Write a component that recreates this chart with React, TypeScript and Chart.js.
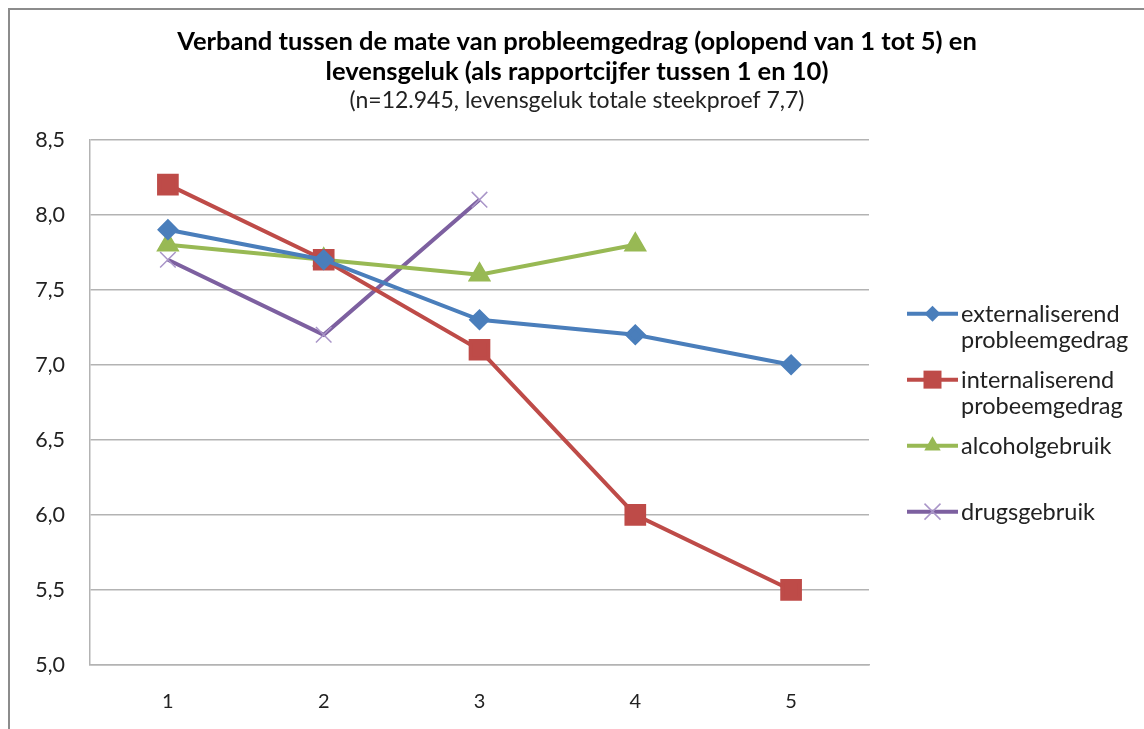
import React, { useEffect, useRef } from "react";
import { Chart, registerables } from "chart.js";

Chart.register(...registerables);

const categories = ["1", "2", "3", "4", "5"];
const externaliserend = [7.9, 7.7, 7.3, 7.2, 7.0];
const internaliserend = [8.2, 7.7, 7.1, 6.0, 5.5];
const alcoholgebruik = [7.8, 7.7, 7.6, 7.8, null];
const drugsgebruik = [7.7, 7.2, 8.1, null, null];

const titleLines = [
  "Verband tussen de mate van probleemgedrag (oplopend van 1 tot 5) en",
  "levensgeluk (als rapportcijfer tussen 1 en 10)",
];
const subtitleText = "(n=12.945, levensgeluk totale steekproef 7,7)";

const legendLabels = [
  ["externaliserend", "probleemgedrag"],
  ["internaliserend", "probeemgedrag"],
  ["alcoholgebruik"],
  ["drugsgebruik"],
];

const FONT = "Lato, 'Open Sans', sans-serif";

function drawMarker(ctx: CanvasRenderingContext2D, style: string, x: number, y: number, color: string, stroke: string) {
  ctx.save();
  ctx.fillStyle = color;
  ctx.strokeStyle = stroke;
  ctx.beginPath();
  if (style === "rectRot") {
    const r = 8;
    ctx.moveTo(x, y - r);
    ctx.lineTo(x + r, y);
    ctx.lineTo(x, y + r);
    ctx.lineTo(x - r, y);
    ctx.closePath();
    ctx.fill();
  } else if (style === "rect") {
    const s = 9;
    ctx.rect(x - s, y - s, 2 * s, 2 * s);
    ctx.fill();
  } else if (style === "triangle") {
    const r = 9.5;
    ctx.moveTo(x, y - r);
    ctx.lineTo(x + r * 0.866, y + r * 0.5);
    ctx.lineTo(x - r * 0.866, y + r * 0.5);
    ctx.closePath();
    ctx.fill();
  } else {
    const s = 8;
    ctx.lineWidth = 1.5;
    ctx.moveTo(x - s, y - s);
    ctx.lineTo(x + s, y + s);
    ctx.moveTo(x + s, y - s);
    ctx.lineTo(x - s, y + s);
    ctx.stroke();
  }
  ctx.restore();
}

const legendPlugin = {
  id: "customLegend",
  afterDraw(chart: any) {
    const ctx: CanvasRenderingContext2D = chart.ctx;
    const area = chart.chartArea;
    const x0 = area.right + 38;
    const x1 = area.right + 89;
    const tx = area.right + 92;
    let y = area.top + 174;
    ctx.save();
    ctx.font = `23.5px ${FONT}`;
    ctx.textBaseline = "middle";
    ctx.textAlign = "left";
    chart.data.datasets.forEach((ds: any, i: number) => {
      ctx.strokeStyle = ds.borderColor;
      ctx.lineWidth = 4;
      ctx.beginPath();
      ctx.moveTo(x0, y);
      ctx.lineTo(x1, y);
      ctx.stroke();
      drawMarker(ctx, ds.pointStyle, (x0 + x1) / 2, y, ds.pointBackgroundColor, ds.pointBorderColor);
      ctx.fillStyle = "#222";
      legendLabels[i].forEach((line, j) => {
        ctx.fillText(line, tx, y + 1 + j * 26);
      });
      y += 66;
    });
    ctx.restore();
  },
};

export default function App() {
  const ref = useRef<HTMLCanvasElement | null>(null);

  useEffect(() => {
    if (!ref.current) return;
    const chart = new Chart(ref.current, {
      type: "line",
      data: {
        labels: categories,
        datasets: [
          {
            label: "externaliserend probleemgedrag",
            data: externaliserend,
            borderColor: "#4A7EBB",
            pointBackgroundColor: "#4A7EBB",
            pointBorderColor: "#4A7EBB",
            pointStyle: "rectRot",
            pointRadius: 8,
            borderWidth: 4,
          },
          {
            label: "internaliserend probeemgedrag",
            data: internaliserend,
            borderColor: "#BE4B48",
            pointBackgroundColor: "#BE4B48",
            pointBorderColor: "#BE4B48",
            pointStyle: "rect",
            pointRadius: 12.5,
            borderWidth: 4,
          },
          {
            label: "alcoholgebruik",
            data: alcoholgebruik,
            borderColor: "#98B954",
            pointBackgroundColor: "#98B954",
            pointBorderColor: "#98B954",
            pointStyle: "triangle",
            pointRadius: 9.5,
            borderWidth: 4,
          },
          {
            label: "drugsgebruik",
            data: drugsgebruik,
            borderColor: "#7D60A0",
            pointBackgroundColor: "#A995C8",
            pointBorderColor: "#A995C8",
            pointStyle: "crossRot",
            pointRadius: 11,
            pointBorderWidth: 1.5,
            borderWidth: 4,
          },
        ] as any,
      },
      options: {
        animation: false,
        responsive: false,
        maintainAspectRatio: false,
        spanGaps: false,
        layout: { padding: 0 },
        plugins: {
          legend: { display: false },
          tooltip: { enabled: false },
          title: {
            display: true,
            text: titleLines,
            color: "#000",
            font: { family: FONT, size: 25.5, weight: "bold", lineHeight: 1.18 },
            padding: { top: 17, bottom: 0 },
          },
          subtitle: {
            display: true,
            text: subtitleText,
            color: "#222",
            font: { family: FONT, size: 23, weight: "normal", lineHeight: 1.15 },
            padding: { top: 0, bottom: 26 },
          },
        },
        scales: {
          x: {
            offset: true,
            grid: { display: false, drawTicks: false, offset: true },
            border: { display: true, color: "#B3B3B3", width: 1.5 },
            ticks: { color: "#222", font: { family: FONT, size: 20 }, padding: 25 },
            afterFit: (s: any) => {
              s.height = 64;
            },
          },
          y: {
            min: 5,
            max: 8.5,
            grid: { color: "#B3B3B3", lineWidth: 1.5, drawTicks: false },
            border: { display: true, color: "#B3B3B3", width: 1.5 },
            ticks: {
              stepSize: 0.5,
              color: "#222",
              font: { family: FONT, size: 21.5 },
              padding: 25,
              callback: (v: any) => Number(v).toFixed(1).replace(".", ","),
            },
            afterFit: (s: any) => {
              s.width = 80;
            },
          },
          legendSpace: {
            type: "linear",
            position: "right",
            min: 0,
            max: 1,
            grid: { display: false, drawTicks: false },
            border: { display: false },
            ticks: { display: false },
            afterFit: (s: any) => {
              s.width = 275;
            },
          },
        } as any,
      },
      plugins: [legendPlugin],
    });
    return () => chart.destroy();
  }, []);

  return (
    <div
      style={{
        position: "fixed",
        left: 8,
        top: 8,
        width: 1136,
        height: 721,
        borderLeft: "2px solid #8C8C8C",
        borderTop: "2px solid #8C8C8C",
        background: "#fff",
        boxSizing: "border-box",
      }}
    >
      <canvas ref={ref} width={1134} height={719} style={{ display: "block" }} />
    </div>
  );
}
